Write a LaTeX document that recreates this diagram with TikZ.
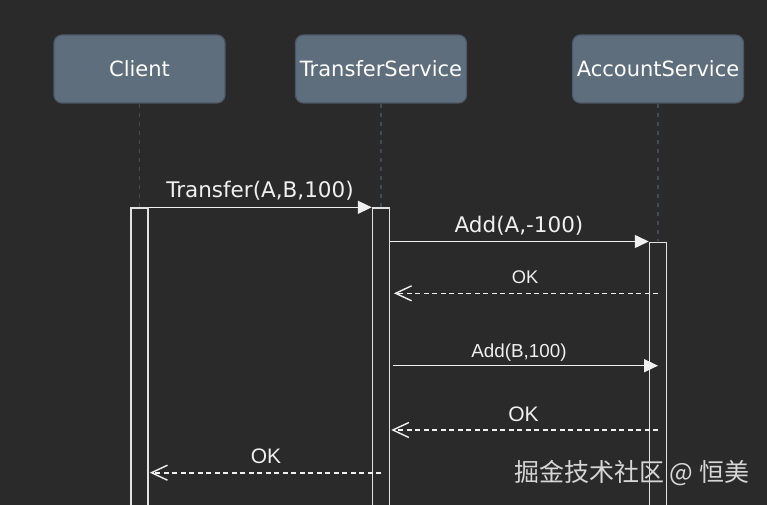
\documentclass[tikz,border=0pt]{standalone}
\usepackage{fontspec}
\setmainfont{DejaVu Sans}
\newfontfamily\arialf{Liberation Sans}
\newfontfamily\cjk{Noto Sans CJK SC}
\usetikzlibrary{arrows.meta}
\definecolor{bgc}{HTML}{2A2A2A}
\definecolor{boxfill}{HTML}{5F6E7D}
\definecolor{boxline}{HTML}{4C5867}
\definecolor{lifec}{HTML}{464B51}
\definecolor{linec}{HTML}{F0F0F0}
\definecolor{actc}{HTML}{E2E2E2}
\definecolor{wmc}{HTML}{D6D6D6}
\tikzset{
  actor/.style={draw=boxline, line width=1.2pt, fill=boxfill, rounded corners=8pt,
    minimum width=171pt, minimum height=68pt, text=white,
    font=\fontsize{21}{25}\selectfont, inner sep=0pt},
  lifeline/.style={draw=lifec, line width=1.2pt, dash pattern=on 4pt off 5pt},
  actbox/.style={draw=actc, line width=1.5pt, fill=bgc, minimum width=17pt,
    minimum height=300pt, anchor=north, inner sep=0pt},
  msg/.style={draw=linec, line width=1.5pt, -{Triangle[length=14pt,width=13pt]}},
  ret/.style={draw=linec, line width=1.6pt, dash pattern=on 5pt off 3.5pt,
    -{Straight Barb[length=16pt,width=15pt,line width=1.4pt]}},
  lbl/.style={text=linec, inner sep=0pt, anchor=base},
}
\begin{document}
\begin{tikzpicture}[x=1pt,y=-1pt]
\useasboundingbox[fill=bgc] (0,0) rectangle (767,505);
% actors
\node[actor] (client) at (139.5,69) {Client};
\node[actor] (ts) at (381,69) {TransferService};
\node[actor] (as) at (658,69) {AccountService};
% lifelines
\draw[lifeline] (client.south) -- (139.5,207);
\draw[lifeline] (ts.south) -- (381,207);
\draw[lifeline] (as.south) -- (658,241);
% activation boxes
\node[actbox] (cact) at (139.6,207.3) {};
\node[actbox] (tact) at (381,207.3) {};
\node[actbox] (aact) at (658,241.5) {};
% lifeline points for returns
\coordinate (aL) at (aact.north);
\coordinate (tL) at (tact.north);
% message 1
\draw[msg] (cact.north east) -- (tact.north west);
\node[lbl, font=\fontsize{21.5}{25}\selectfont] (m1) at (260,197.3) {Transfer(A,B,100)};
% message 2
\draw[msg] (tact.east |- aact.north) -- (aact.north west);
\node[lbl, font=\fontsize{21.5}{25}\selectfont] (m2) at (519,232) {Add(A,-100)};
% return 1
\draw[ret] ([yshift=-51.8pt]aL) -- ([xshift=3.7pt,yshift=-86pt]tact.north east);
\node[lbl, font=\arialf\fontsize{18.3}{22}\selectfont] (r1) at (525,283.3) {OK};
% message 3
\draw[msg] ([xshift=3pt,yshift=-158.4pt]tact.north east) -- ([yshift=-124.2pt]aL);
\node[lbl, font=\arialf\fontsize{18.8}{22}\selectfont] (m3) at (519,357.3) {Add(B,100)};
% return 2
\draw[ret] ([yshift=-188.5pt]aL) -- ([xshift=1pt,yshift=-222.7pt]tact.north east);
\node[lbl, font=\arialf\fontsize{21}{24}\selectfont] (r2) at (523.5,421.7) {OK};
% return 3
\draw[ret] ([yshift=-265.4pt]tL) -- ([xshift=1pt,yshift=-265.4pt]cact.north east);
\node[lbl, font=\arialf\fontsize{21}{24}\selectfont] (r3) at (266,463.3) {OK};
% watermark
\node[text=wmc, inner sep=0pt, anchor=base west, font=\cjk\fontsize{25}{28}\selectfont] (wm) at (514,481.5) {掘金技术社区 @ 恒美};
\end{tikzpicture}
\end{document}
